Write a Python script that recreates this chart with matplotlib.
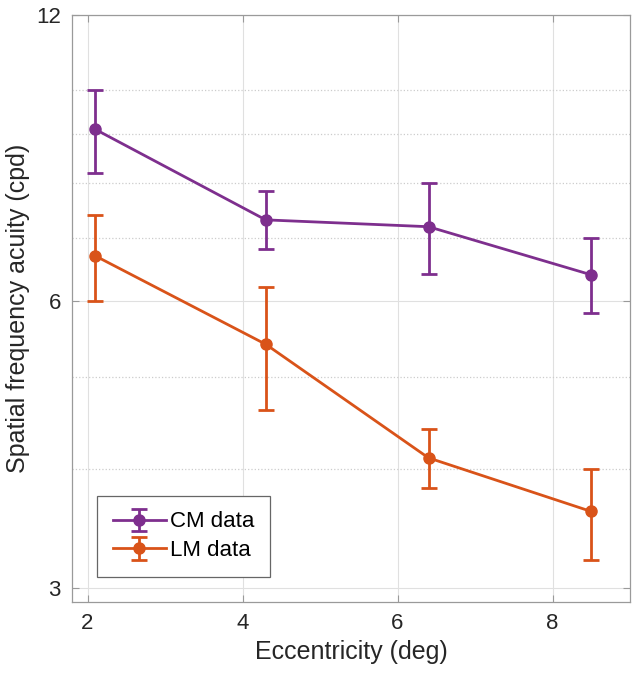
import matplotlib.pyplot as plt
from matplotlib.ticker import FixedLocator, NullFormatter

plt.rcParams['font.family'] = ['Liberation Sans', 'DejaVu Sans']

# eccentricity (deg)
ecc = [2.1, 4.3, 6.4, 8.5]

# CM data: mean and error bar limits (cpd)
cm_mean = [9.1, 7.31, 7.19, 6.40]
cm_low = [8.18, 6.82, 6.41, 5.83]
cm_high = [10.0, 7.83, 8.0, 7.0]

# LM data
lm_mean = [6.70, 5.41, 4.11, 3.61]
lm_low = [6.0, 4.61, 3.82, 3.21]
lm_high = [7.39, 6.21, 4.41, 4.0]

cm_color = '#7E2F8E'
lm_color = '#D95319'

fig = plt.figure(figsize=(6.33, 6.74), dpi=100)
ax = fig.add_axes([72 / 633, 1 - 602 / 674, 558 / 633, 587 / 674])

cm_err = [[m - l for m, l in zip(cm_mean, cm_low)], [h - m for m, h in zip(cm_mean, cm_high)]]
lm_err = [[m - l for m, l in zip(lm_mean, lm_low)], [h - m for m, h in zip(lm_mean, lm_high)]]

ax.errorbar(ecc, cm_mean, yerr=cm_err, color=cm_color, marker='o', markersize=8,
            linewidth=2, elinewidth=2, capsize=5.5, capthick=2, label='CM data', zorder=3)
ax.errorbar(ecc, lm_mean, yerr=lm_err, color=lm_color, marker='o', markersize=8,
            linewidth=2, elinewidth=2, capsize=5.5, capthick=2, label='LM data', zorder=3)

ax.set_yscale('log')
ax.set_ylim(2.9, 12)
ax.set_xlim(1.8, 9.0)
ax.yaxis.set_major_locator(FixedLocator([3, 6, 12]))
ax.set_yticklabels(['3', '6', '12'])
ax.yaxis.set_minor_locator(FixedLocator([4, 5, 7, 8, 9, 10]))
ax.yaxis.set_minor_formatter(NullFormatter())
ax.set_xticks([2, 4, 6, 8])

# format plot
ax.grid(True, which='major', color='#e0e0e0', linewidth=0.8, zorder=0)
ax.grid(True, which='minor', axis='y', color='#cccccc', linestyle=':', linewidth=0.9, zorder=0)
ax.set_axisbelow(True)
for s in ax.spines.values():
    s.set_color('#9a9a9a')
    s.set_linewidth(0.9)
ax.tick_params(axis='both', which='major', direction='in', top=True, right=True,
               labelsize=16, colors='#9a9a9a', labelcolor='#262626', length=5, pad=8)
ax.tick_params(axis='y', which='minor', direction='in', left=False, right=False)

ax.set_xlabel('Eccentricity (deg)', fontsize=18, color='#262626', labelpad=4)
ax.set_ylabel('Spatial frequency acuity (cpd)', fontsize=18, color='#262626', labelpad=4)

leg = ax.legend(loc='lower left', bbox_to_anchor=(0.045, 0.043), fontsize=16,
                fancybox=False, framealpha=1, edgecolor='#666666', borderpad=0.7,
                handlelength=2.4, labelspacing=0.35, handletextpad=0.2, borderaxespad=0)
leg.get_frame().set_linewidth(0.9)

fig.savefig('out.png', dpi=100)
